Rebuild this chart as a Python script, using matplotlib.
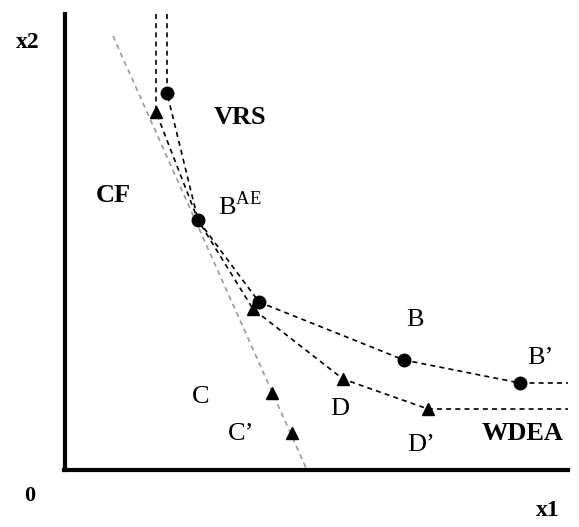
import matplotlib.pyplot as plt

# frontier points (x1, x2)
vrs_x = [10.2, 10.2, 13.3, 19.4, 33.9, 45.5, 50.3]
vrs_y = [45.6, 37.7, 25.0, 16.8, 11.0, 8.7, 8.7]
vrs_dots_x = [10.2, 13.3, 19.4, 33.9, 45.5]
vrs_dots_y = [37.7, 25.0, 16.8, 11.0, 8.7]

wdea_x = [9.1, 9.1, 13.3, 18.8, 27.8, 36.3, 50.3]
wdea_y = [45.6, 35.8, 25.0, 16.1, 9.1, 6.1, 6.1]
wdea_tri_x = [9.1, 18.8, 27.8, 36.3]
wdea_tri_y = [35.8, 16.1, 9.1, 6.1]

cf_x = [4.8, 24.1]
cf_y = [43.4, 0.2]
c_tri_x = [20.7, 22.7]
c_tri_y = [7.7, 3.7]

labels = ["VRS", "CF", "B", "B’", "C", "C’", "D", "D’", "WDEA"]
label_x = [17.5, 4.8, 35.0, 47.5, 13.6, 17.6, 27.5, 35.6, 45.8]
label_y = [35.3, 27.5, 15.0, 11.2, 7.3, 3.6, 6.1, 2.5, 3.7]
bold = [True, True, False, False, False, False, False, False, True]

plt.rcParams['font.family'] = ['Liberation Serif', 'DejaVu Serif']
plt.rcParams['mathtext.fontset'] = 'custom'
plt.rcParams['mathtext.rm'] = 'Liberation Serif'

fig = plt.figure(figsize=(5.79, 5.27), dpi=100)
ax = fig.add_axes([0, 0, 1, 1])
ax.set_xlim(-6.5, 51.4)
ax.set_ylim(-5.7, 47.0)

ax.plot(cf_x, cf_y, color='#999999', ls=(0, (3, 2.5)), lw=1.2)
ax.plot(vrs_x, vrs_y, color='black', ls=(0, (3, 2.5)), lw=1.2)
ax.plot(wdea_x, wdea_y, color='black', ls=(0, (3, 2.5)), lw=1.2)

ax.plot(vrs_dots_x, vrs_dots_y, 'o', color='black', ms=9)
ax.plot(wdea_tri_x, wdea_tri_y, '^', color='black', ms=9)
ax.plot(c_tri_x, c_tri_y, '^', color='black', ms=9)

for t, x, y, b in zip(labels, label_x, label_y, bold):
    ax.text(x, y, t, fontsize=19, fontweight='bold' if b else 'normal',
            ha='center', va='center')

ax.text(15.3, 26.4, r"B$^{\mathrm{AE}}$", fontsize=19, ha='left', va='center')
ax.text(-3.7, 42.8, "x2", fontsize=17, fontweight='bold', ha='center', va='center')
ax.text(48.3, -4.1, "x1", fontsize=17, fontweight='bold', ha='center', va='center')
ax.text(-3.5, -2.6, "0", fontsize=16, fontweight='bold', ha='center', va='center')

for side in ['top', 'right']:
    ax.spines[side].set_visible(False)
ax.spines['left'].set_position(('data', 0))
ax.spines['bottom'].set_position(('data', 0))
ax.spines['left'].set_bounds(0, 45.6)
ax.spines['bottom'].set_bounds(-0.1, 50.3)
ax.spines['left'].set_linewidth(3)
ax.spines['bottom'].set_linewidth(3)
ax.set_xticks([])
ax.set_yticks([])

fig.savefig('out.png', dpi=100)
